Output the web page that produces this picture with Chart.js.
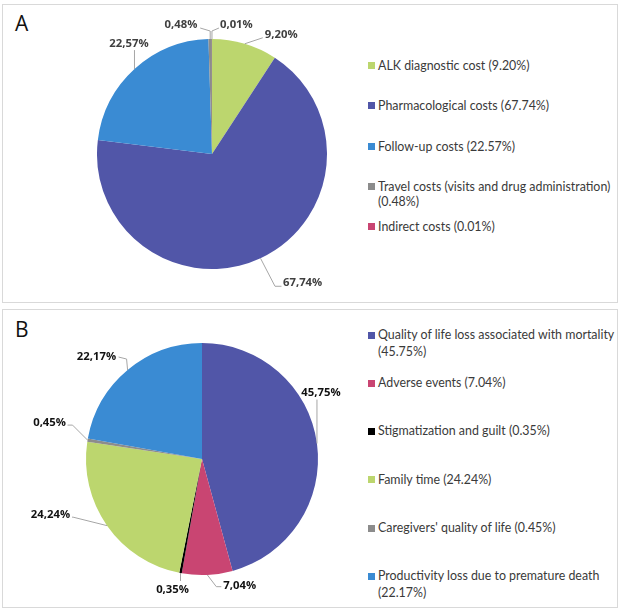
<!DOCTYPE html>
<html>
<head>
<meta charset="utf-8">
<script src="https://cdn.jsdelivr.net/npm/chart.js@4.4.1/dist/chart.umd.min.js"></script>
<style>
  body { margin: 0; width: 620px; height: 610px; position: relative; background: #fff; overflow: hidden; }
  .panel { position: absolute; left: 2px; width: 616px; height: 299px; box-sizing: border-box; border: 1.5px solid #d9d9d9; }
  .tag { position: absolute; left: 15px; font: 21px "Open Sans", sans-serif; line-height: 21px; color: #111; }
  canvas { position: absolute; left: 0; }
  .legend { position: absolute; left: 368px; width: 250px; color: #3a3a3a; font-family: Lato, sans-serif; font-size: 12.4px; }
  .item { position: absolute; left: 0; display: flex; align-items: flex-start; }
  .box { width: 7px; height: 7px; margin-right: 3px; flex: none; }
</style>
</head>
<body>
<div class="panel" style="top:4px"></div>
<div class="panel" style="top:309px"></div>
<div class="tag" style="top:13px">A</div>
<div class="tag" style="top:319px">B</div>
<canvas id="chartA" width="360" height="306" style="top:0"></canvas>
<canvas id="chartB" width="360" height="304" style="top:306px"></canvas>
<div class="legend" id="legendA" style="top:58px"></div>
<div class="legend" id="legendB" style="top:327px"></div>
<script>
// Panel A: cost breakdown
const labelsA = ['ALK diagnostic cost', 'Pharmacological costs', 'Follow-up costs', 'Travel costs (visits and drug administration)', 'Indirect costs'];
const valuesA = [9.20, 67.74, 22.57, 0.48, 0.01];
const colorsA = ['#bcd66e', '#5156a8', '#3a8bd3', '#8c8c8c', '#c94572'];

// Panel B: quality of life / intangible breakdown
const labelsB = ['Quality of life loss associated with mortality', 'Adverse events', 'Stigmatization and guilt', 'Family time', "Caregivers' quality of life", 'Productivity loss due to premature death'];
const valuesB = [45.75, 7.04, 0.35, 24.24, 0.45, 22.17];
const colorsB = ['#5156a8', '#c94572', '#000000', '#bcd66e', '#8c8c8c', '#3a8bd3'];

// where each data label sits, relative to the slice edge at its mid angle
const spotsA = [
    { line: [[0, 0], [18, -6]], text: [20, -9], align: 'left' },
    { line: [[0, 0], [14.5, 28], [21, 28]], text: [22.5, 25], align: 'left' },
    { line: [[0, 0], [0, -19]], text: [-5.5, -25], align: 'center' },
    { line: [[0, 0], [0, -8], [-10, -11]], text: [-12.8, -14], align: 'right' },
    { line: [[0, 0], [0, -8], [7, -11]], text: [8, -14], align: 'left' }
];
const spotsB = [
    { line: [[0, 0], [0, -44]], text: [4, -50.6], align: 'center' },
    { line: [[0, 0], [9, 11.8], [14, 11.8]], text: [16, 10.5], align: 'left' },
    { line: [[0, 0], [0, 8]], text: [-8, 17], align: 'center' },
    { line: [[0, 0], [-34, -8.5], [-35, -8.5]], text: [-37, -10.6], align: 'right' },
    { line: [[0, 0], [-15, -15], [-20, -15]], text: [-21.6, -17], align: 'right' },
    { line: [[0, 0], [-1, -11], [-9, -13]], text: [-11.5, -13], align: 'right' }
];

const leaderLabels = {
    id: 'leaderLabels',
    afterDatasetsDraw(chart, args, opts) {
        const ctx = chart.ctx;
        const values = chart.data.datasets[0].data;
        ctx.save();
        ctx.font = opts.font;
        ctx.textBaseline = 'middle';
        chart.getDatasetMeta(0).data.forEach((arc, i) => {
            const { x, y, startAngle, endAngle, outerRadius } =
                arc.getProps(['x', 'y', 'startAngle', 'endAngle', 'outerRadius'], true);
            const mid = (startAngle + endAngle) / 2;
            const ex = x + Math.cos(mid) * outerRadius;
            const ey = y + Math.sin(mid) * outerRadius;
            const spot = opts.spots[i];
            ctx.strokeStyle = '#a6a6a6';
            ctx.lineWidth = 1;
            ctx.beginPath();
            spot.line.forEach(([dx, dy], k) => k ? ctx.lineTo(ex + dx, ey + dy) : ctx.moveTo(ex + dx, ey + dy));
            ctx.stroke();
            ctx.fillStyle = opts.color;
            ctx.textAlign = spot.align;
            ctx.fillText(values[i].toFixed(2).replace('.', ',') + '%', ex + spot.text[0], ey + spot.text[1]);
        });
        ctx.restore();
    }
};

function makePie(id, labels, values, colors, padding, spots, textColor) {
    return new Chart(document.getElementById(id), {
        type: 'pie',
        data: {
            labels: labels,
            datasets: [{ data: values, backgroundColor: colors, borderWidth: 0, hoverOffset: 0 }]
        },
        options: {
            responsive: false,
            animation: false,
            layout: { padding: padding },
            plugins: {
                legend: { display: false },
                tooltip: { enabled: false },
                leaderLabels: { spots: spots, color: textColor, font: 'bold 11.3px "Open Sans", sans-serif' }
            }
        },
        plugins: [leaderLabels]
    });
}

function buildLegend(id, chart, slot, lineHeight) {
    const el = document.getElementById(id);
    const ds = chart.data.datasets[0];
    chart.data.labels.forEach((name, i) => {
        const item = document.createElement('div');
        item.className = 'item';
        item.style.top = (i * slot) + 'px';
        item.style.lineHeight = lineHeight + 'px';
        const box = document.createElement('div');
        box.className = 'box';
        box.style.background = ds.backgroundColor[i];
        box.style.marginTop = ((lineHeight - 7) / 2) + 'px';
        const txt = document.createElement('div');
        txt.style.width = '240px';
        txt.textContent = name + ' (' + ds.data[i].toFixed(2) + '%)';
        item.appendChild(box);
        item.appendChild(txt);
        el.appendChild(item);
    });
}

const chartA = makePie('chartA', labelsA, valuesA, colorsA, { left: 97, top: 39, right: 33, bottom: 37 }, spotsA, '#404040');
const chartB = makePie('chartB', labelsB, valuesB, colorsB, { left: 86, top: 37, right: 42, bottom: 35 }, spotsB, '#111111');
buildLegend('legendA', chartA, 40.3, 15.3);
buildLegend('legendB', chartB, 48.2, 16.5);
</script>
</body>
</html>
